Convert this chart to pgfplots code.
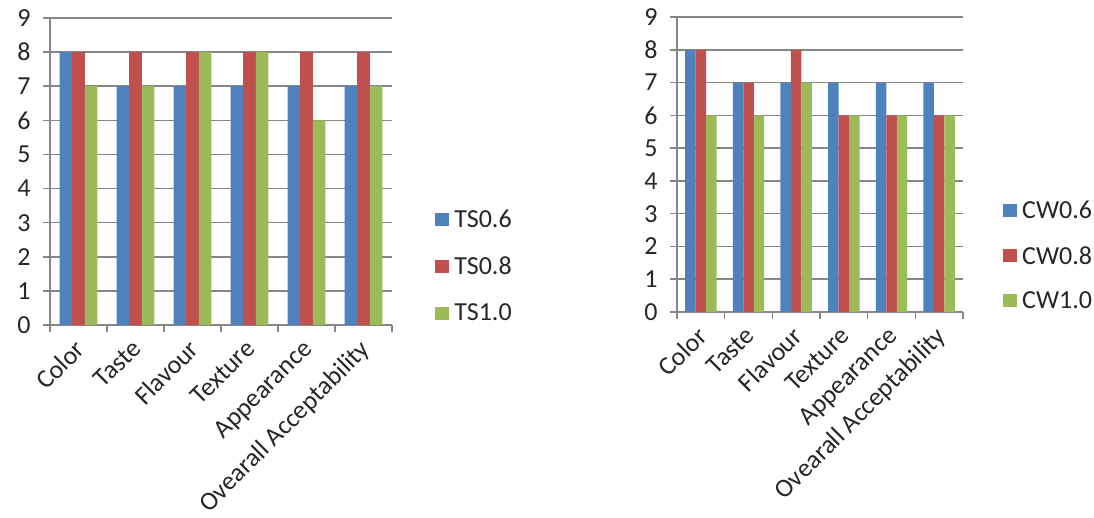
\documentclass[border=0pt]{standalone}
\usepackage{fontspec}
\setmainfont{Carlito}
\usepackage{pgfplots}
\pgfplotsset{compat=1.18}
\definecolor{cblue}{HTML}{4F81BD}
\definecolor{cred}{HTML}{C0504D}
\definecolor{cgreen}{HTML}{9BBB59}
\definecolor{cgrid}{HTML}{868686}
\definecolor{ctext}{HTML}{262626}
\pgfplotsset{
 mystyle/.style={
  scale only axis,
  anchor=south west,
  ybar=0pt, bar width=0.22,
  xmin=-0.5, xmax=5.5, ymin=0, ymax=9,
  ytick={0,...,9},
  xtick={0,...,5},
  xticklabels={Color,Taste,Flavour,Texture,Appearance,Ovearall Acceptability},
  minor xtick={-0.5,0.5,...,5.5},
  axis x line*=bottom, axis y line*=left,
  axis line style={cgrid, line width=2pt},
  ymajorgrids, grid style={cgrid, line width=1.5pt},
  tick align=outside,
  major tick length=7pt, minor tick length=7pt,
  major x tick style={draw=none},
  every tick/.style={cgrid, line width=1.5pt},
  minor x tick style={cgrid, line width=1.5pt},
  /pgf/number format/assume math mode=true,
  tick label style={font=\fontsize{26}{30}\selectfont, text=ctext},
  yticklabel style={xshift=-9pt},
  xticklabel style={xshift=-5pt, yshift=-6pt, rotate=45, anchor=north east, inner sep=0pt},
  legend style={draw=none, fill=none, anchor=north west, inner sep=0pt,
     font=\fontsize{26}{30}\selectfont, text=ctext, legend cell align=left,
     /tikz/every odd column/.append style={column sep=3pt}},
  legend image code/.code={\fill[##1] (0pt,-6.5pt) rectangle (14pt,6.5pt);},
 }
}
\begin{document}
\begin{tikzpicture}
\path[use as bounding box] (0,0) rectangle (1094pt,518pt);
\begin{axis}[mystyle, at={(50pt,193pt)}, width=342pt, height=307pt,
  legend style={at={(1.126,0.383)}, row sep=24pt}]
\addplot[fill=cblue, draw=none] coordinates {(0,8) (1,7) (2,7) (3,7) (4,7) (5,7)};
\addplot[fill=cred, draw=none] coordinates {(0,8) (1,8) (2,8) (3,8) (4,8) (5,8)};
\addplot[fill=cgreen, draw=none] coordinates {(0,7) (1,7) (2,8) (3,8) (4,6) (5,7)};
\legend{TS0.6,TS0.8,TS1.0}
\end{axis}
\begin{axis}[mystyle, at={(677pt,206pt)}, width=286pt, height=295pt,
  legend style={at={(1.14,0.383)}, row sep=22pt}]
\addplot[fill=cblue, draw=none] coordinates {(0,8) (1,7) (2,7) (3,7) (4,7) (5,7)};
\addplot[fill=cred, draw=none] coordinates {(0,8) (1,7) (2,8) (3,6) (4,6) (5,6)};
\addplot[fill=cgreen, draw=none] coordinates {(0,6) (1,6) (2,7) (3,6) (4,6) (5,6)};
\legend{CW0.6,CW0.8,CW1.0}
\end{axis}
\end{tikzpicture}
\end{document}
